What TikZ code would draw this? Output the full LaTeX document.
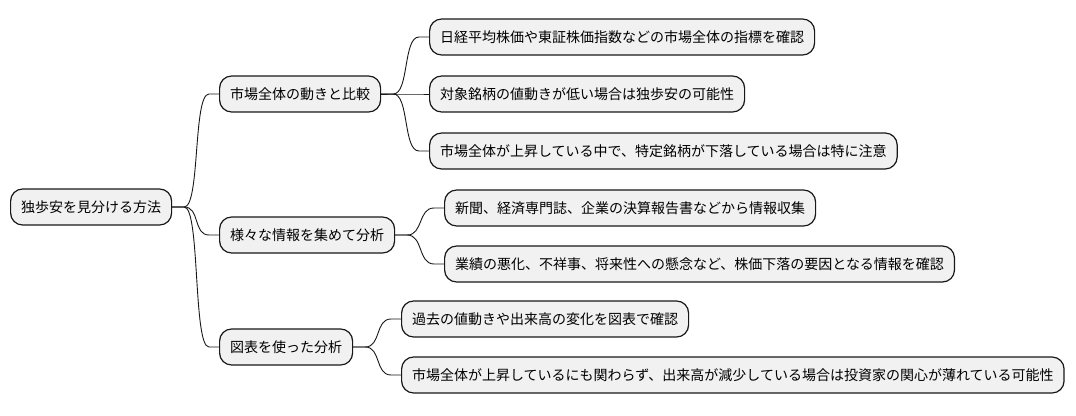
\documentclass[tikz,border=0pt]{standalone}
\usepackage{fontspec}
\newfontfamily\jpfont{Noto Sans CJK JP}
\usetikzlibrary{calc}
\definecolor{boxfill}{HTML}{F1F1F1}
\definecolor{boxline}{HTML}{181818}
\tikzset{
  mmbox/.style={draw=boxline, fill=boxfill, line width=1.2pt, rounded corners=12pt,
    minimum height=36pt, inner xsep=10.5pt, inner ysep=0pt, anchor=west,
    font=\jpfont\fontsize{14}{16}\selectfont, text=black},
  mmlink/.style={draw=boxline, line width=0.9pt}
}
\newcommand{\mmconn}[2]{%
  \draw[mmlink] (#1.east) -- ++(12,0) .. controls +(16,0) and +(-16,0) .. ($(#2.west)+(-10,0)$) -- (#2.west);}
\begin{document}
\begin{tikzpicture}[x=1pt,y=-1pt]
\useasboundingbox (0,0) rectangle (1076,415);
\node[mmbox] (root) at (10,207) {独歩安を見分ける方法};
\node[mmbox] (a) at (219,94) {市場全体の動きと比較};
\node[mmbox] (b) at (219,235) {様々な情報を集めて分析};
\node[mmbox] (c) at (219,347) {図表を使った分析};
\node[mmbox] (a1) at (429,37) {日経平均株価や東証株価指数などの市場全体の指標を確認};
\node[mmbox] (a2) at (429,94) {対象銘柄の値動きが低い場合は独歩安の可能性};
\node[mmbox] (a3) at (429,151) {市場全体が上昇している中で、特定銘柄が下落している場合は特に注意};
\node[mmbox] (b1) at (444,208) {新聞、経済専門誌、企業の決算報告書などから情報収集};
\node[mmbox] (b2) at (444,264) {業績の悪化、不祥事、将来性への懸念など、株価下落の要因となる情報を確認};
\node[mmbox] (c1) at (401,319) {過去の値動きや出来高の変化を図表で確認};
\node[mmbox] (c2) at (401,375) {市場全体が上昇しているにも関わらず、出来高が減少している場合は投資家の関心が薄れている可能性};
\mmconn{root}{a}
\mmconn{root}{b}
\mmconn{root}{c}
\mmconn{a}{a1}
\mmconn{a}{a2}
\mmconn{a}{a3}
\mmconn{b}{b1}
\mmconn{b}{b2}
\mmconn{c}{c1}
\mmconn{c}{c2}
\end{tikzpicture}
\end{document}
